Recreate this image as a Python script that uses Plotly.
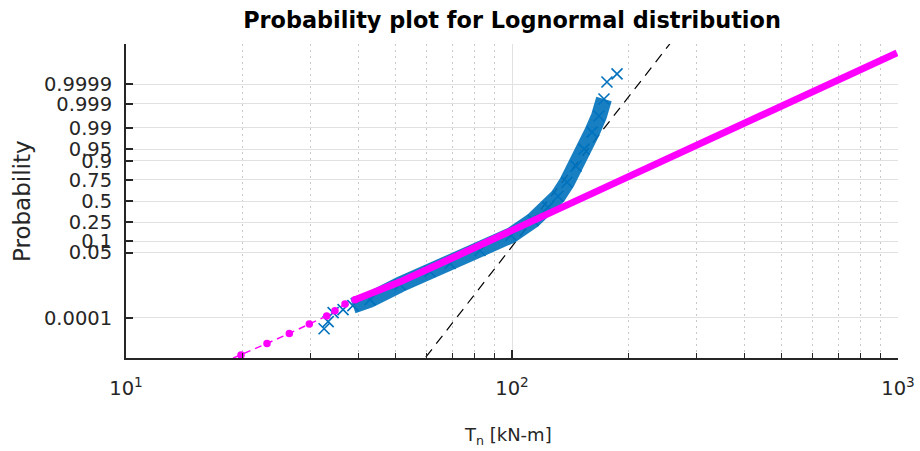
import math
import plotly.graph_objects as go

# ---------------- data ----------------
# Blue sample (x markers): torque values [kN-m] and plotting probabilities
blue_x = [32.6, 33.4, 34.4, 36.5, 38.7, 42.9, 51.3, 61.3, 69.1, 82.6, 99.4,
          113.4, 124.0, 131.6, 138.8, 146.5, 153.7, 161.2, 168.0, 173.1,
          176.2, 187.1]
blue_p = [2.38e-5, 6.1e-5, 1.88e-4, 2.70e-4, 4.3e-4, 8.4e-4, 3.9e-3, 0.0124,
          0.0233, 0.0576, 0.1366, 0.2687, 0.420, 0.560, 0.7248, 0.8663,
          0.9507, 0.98592, 0.99659, 0.99942, 0.999925, 0.999974]

# Magenta sample: sparse lower tail (separate dots) and dense body
mag_tail_x = [16.6, 19.86, 23.19, 26.49, 29.85, 33.11, 34.78, 36.93, 39.2]
mag_tail_p = [5.5e-8, 4.6e-7, 2.86e-6, 1.24e-5, 4.5e-5, 1.26e-4, 2.40e-4,
              5.23e-4, 8.4e-4]
mag_body_x = [39.2, 51.3, 69.1, 99.4, 133.2, 202.2, 306.9, 439.0, 557.4,
              707.5, 994.0]
mag_body_p = [8.4e-4, 0.00501, 0.0324, 0.1721, 0.4079, 0.7870, 0.9659,
              0.99656, 0.999501, 0.9999467, 0.9999988]

# Fitted lognormal reference line (black dashed) end points
ref_x = [59.8, 256.4]
ref_p = [3.3e-7, 0.99999972]

# Axis ticks
prob_ticks = [0.0001, 0.05, 0.1, 0.25, 0.5, 0.75, 0.9, 0.95, 0.99, 0.999, 0.9999]
prob_tick_text = ["0.0001", "0.05", "0.1", "0.25", "0.5", "0.75", "0.9",
                  "0.95", "0.99", "0.999", "0.9999"]
x_major = [10, 100, 1000]
x_major_text = ["10<sup>1</sup>", "10<sup>2</sup>", "10<sup>3</sup>"]
x_minor = [20, 30, 40, 50, 60, 70, 80, 90, 200, 300, 400, 500, 600, 700, 800, 900]


# ---------------- normal-probability scale ----------------
def norm_cdf(z):
    return 0.5 * math.erfc(-z / math.sqrt(2.0))


def probit(p):
    if p > 0.5:
        return -probit(1.0 - p)
    lo, hi = -40.0, 0.0
    for _ in range(200):
        mid = 0.5 * (lo + hi)
        if norm_cdf(mid) < p:
            lo = mid
        else:
            hi = mid
    return 0.5 * (lo + hi)


def zs(ps):
    return [probit(p) for p in ps]


BLUE = "#0072BD"
MAG = "#FF00FF"
AX = "#262626"
GRID = "#e1e1e1"
FONT = "DejaVu Sans, sans-serif"

fig = go.Figure()

# reference line
fig.add_trace(go.Scatter(
    x=ref_x, y=zs(ref_p), mode="lines",
    line=dict(color="black", width=1.2, dash="10px,7px"),
    hoverinfo="skip", showlegend=False))

# blue dense band
fig.add_trace(go.Scatter(
    x=blue_x[4:20], y=zs(blue_p[4:20]), mode="lines",
    line=dict(color=BLUE, width=16), opacity=0.9,
    hoverinfo="skip", showlegend=False))

# blue markers
fig.add_trace(go.Scatter(
    x=blue_x, y=zs(blue_p), mode="markers",
    marker=dict(symbol="x-thin", size=11, color=BLUE,
                line=dict(color=BLUE, width=1.6)),
    showlegend=False))

# magenta sparse tail
fig.add_trace(go.Scatter(
    x=mag_tail_x, y=zs(mag_tail_p), mode="lines+markers",
    line=dict(color=MAG, width=1.5, dash="7px,5px"),
    marker=dict(symbol="circle", size=7.5, color=MAG),
    showlegend=False))

# magenta dense body
fig.add_trace(go.Scatter(
    x=mag_body_x, y=zs(mag_body_p), mode="lines",
    line=dict(color=MAG, width=7),
    showlegend=False))

tick_font = dict(family=FONT, size=19.5, color=AX)

fig.update_layout(
    width=920, height=451,
    margin=dict(l=126, r=22, t=44, b=93),
    paper_bgcolor="white", plot_bgcolor="white",
    title=dict(text="<b>Probability plot for Lognormal distribution</b>",
               font=dict(family=FONT, size=22.4, color="black"),
               x=0.5, xref="paper", xanchor="center",
               y=1 - 20 / 451, yref="container", yanchor="middle"),
    xaxis=dict(
        type="log", range=[1, 3], automargin=False,
        tickmode="array", tickvals=x_major, ticktext=x_major_text,
        ticks="inside", ticklen=8, tickwidth=1.5, tickcolor=AX,
        tickfont=tick_font, ticklabelstandoff=12,
        showline=True, linecolor=AX, linewidth=1.8, mirror=False,
        showgrid=True, gridcolor=GRID, gridwidth=1,
        zeroline=False,
        minor=dict(tickvals=x_minor, ticks="inside", ticklen=5, tickwidth=1.2,
                   tickcolor=AX, showgrid=True, gridcolor="#c8c8c8",
                   gridwidth=1, griddash="2px,4px"),
    ),
    yaxis=dict(
        range=[-5, 5], automargin=False,
        tickmode="array", tickvals=zs(prob_ticks), ticktext=prob_tick_text,
        ticks="inside", ticklen=7, tickwidth=1.5, tickcolor=AX,
        tickfont=tick_font, ticklabelstandoff=8,
        showline=True, linecolor=AX, linewidth=1.8, mirror=False,
        showgrid=True, gridcolor=GRID, gridwidth=1,
        zeroline=False,
    ),
    annotations=[
        dict(text="Probability", textangle=-90, xref="paper", yref="paper",
             x=(22 - 126) / 772, y=0.5, xanchor="center", yanchor="middle",
             showarrow=False,
             font=dict(family=FONT, size=23, color=AX)),
        dict(text="T<sub>n</sub> [kN-m]", xref="paper", yref="paper",
             x=(508 - 126) / 772, y=(358 - 436) / 314,
             xanchor="center", yanchor="middle", showarrow=False,
             font=dict(family=FONT, size=18, color=AX)),
    ],
)

fig.write_html(
    "out.html",
    config={"displayModeBar": False},
    post_script="document.body.style.margin='0px';"
                "document.body.style.padding='0px';"
                "document.body.style.overflow='hidden';",
)
